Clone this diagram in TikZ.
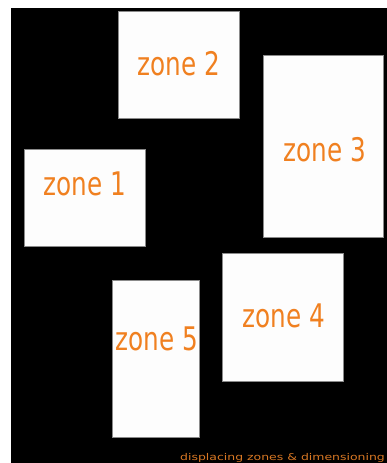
\documentclass[tikz,border=0pt]{standalone}
\usepackage{fontspec}
\newfontfamily\zonefont[FakeStretch=0.76]{DejaVu Sans}
\newfontfamily\capfont[FakeStretch=1.34]{DejaVu Sans}
\definecolor{zorange}{HTML}{F08020}
\definecolor{corange}{HTML}{D97824}
\definecolor{zfill}{HTML}{FDFDFD}
\definecolor{zline}{HTML}{8A8A8A}
\tikzset{
  zonebox/.style={draw=zline, line width=0.8pt, fill=zfill, inner sep=0pt, outer sep=0pt},
  zonelabel/.style={text=zorange, font=\zonefont\fontsize{32.5}{32.5}\selectfont, inner sep=0pt, anchor=center},
  captext/.style={text=corange, font=\capfont\fontsize{9.3}{9.3}\selectfont, inner sep=0pt, anchor=base west}
}
\begin{document}
\begin{tikzpicture}[x=1pt,y=-1pt]
\useasboundingbox (0,0) rectangle (387,463);
\clip (0,0) rectangle (387,463);
\fill[black] (11,8) rectangle (390,466);
% boxes
\draw[zonebox] (118,11) rectangle (239,118) coordinate (b2);
\draw[zonebox] (263,55) rectangle (383,237) coordinate (b3);
\draw[zonebox] (24,149) rectangle (145,246) coordinate (b1);
\draw[zonebox] (222,253) rectangle (343,381) coordinate (b4);
\draw[zonebox] (112,280) rectangle (199,437) coordinate (b5);
% labels
\node[zonelabel] (t2) at (179,64) {zone 2};
\node[zonelabel] (t3) at (325,150) {zone 3};
\node[zonelabel] (t1) at (85,184) {zone 1};
\node[zonelabel] (t4) at (284,316) {zone 4};
\node[zonelabel] (t5) at (157,339) {zone 5};
\node[captext] (cap) at (180,460) {displacing zones \& dimensioning};
\end{tikzpicture}
\end{document}
